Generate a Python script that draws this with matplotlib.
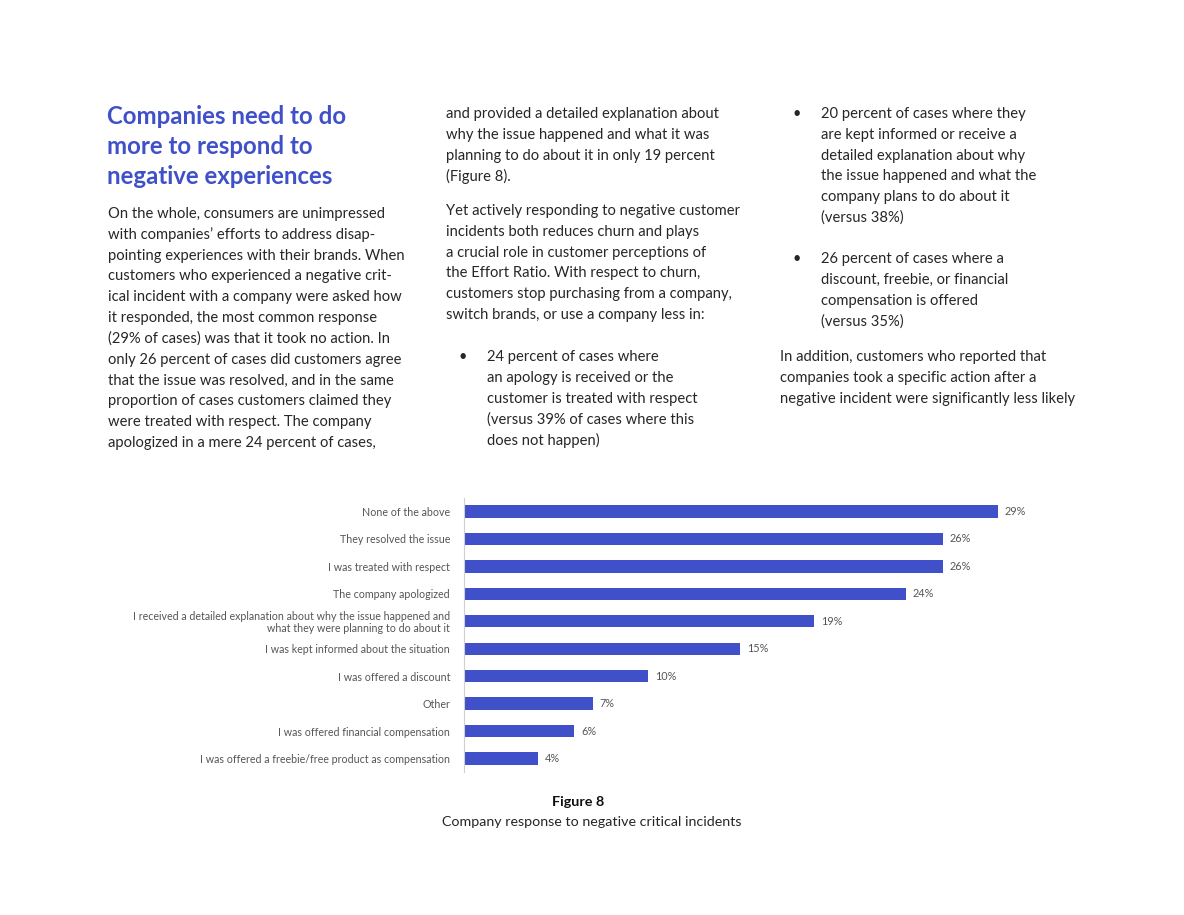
import matplotlib
matplotlib.use("Agg")
import matplotlib.pyplot as plt

# ---------------- data ----------------
categories = [
    "None of the above",
    "They resolved the issue",
    "I was treated with respect",
    "The company apologized",
    "I received a detailed explanation about why the issue happened and\nwhat they were planning to do about it",
    "I was kept informed about the situation",
    "I was offered a discount",
    "Other",
    "I was offered financial compensation",
    "I was offered a freebie/free product as compensation",
]
values = [29, 26, 26, 24, 19, 15, 10, 7, 6, 4]

heading_lines = ["Companies need to do", "more to respond to", "negative experiences"]
col1_lines = [
    "On the whole, consumers are unimpressed",
    "with companies\u2019 efforts to address disap-",
    "pointing experiences with their brands. When",
    "customers who experienced a negative crit-",
    "ical incident with a company were asked how",
    "it responded, the most common response",
    "(29% of cases) was that it took no action. In",
    "only 26 percent of cases did customers agree",
    "that the issue was resolved, and in the same",
    "proportion of cases customers claimed they",
    "were treated with respect. The company",
    "apologized in a mere 24 percent of cases,",
]
col2_para1 = [
    "and provided a detailed explanation about",
    "why the issue happened and what it was",
    "planning to do about it in only 19 percent",
    "(Figure 8).",
]
col2_para2 = [
    "Yet actively responding to negative customer",
    "incidents both reduces churn and plays",
    "a crucial role in customer perceptions of",
    "the Effort Ratio. With respect to churn,",
    "customers stop purchasing from a company,",
    "switch brands, or use a company less in:",
]
col2_bullet = [
    "24 percent of cases where",
    "an apology is received or the",
    "customer is treated with respect",
    "(versus 39% of cases where this",
    "does not happen)",
]
col3_bullet1 = [
    "20 percent of cases where they",
    "are kept informed or receive a",
    "detailed explanation about why",
    "the issue happened and what the",
    "company plans to do about it",
    "(versus 38%)",
]
col3_bullet2 = [
    "26 percent of cases where a",
    "discount, freebie, or financial",
    "compensation is offered",
    "(versus 35%)",
]
col3_para = [
    "In addition, customers who reported that",
    "companies took a specific action after a",
    "negative incident were significantly less likely",
]
fig_label = "Figure 8"
fig_caption = "Company response to negative critical incidents"

# ---------------- style ----------------
W, H = 1184, 915
plt.rcParams['font.family'] = ['Lato', 'DejaVu Sans']
BLUE = '#3F50C8'
TEXT = '#262626'
GREY = '#555555'
BODY_FS = 10.6
LINE = 20.8

fig = plt.figure(figsize=(W / 100, H / 100), dpi=100)
fig.patch.set_facecolor('white')


def px(x, y):
    return x / W, 1 - y / H


def block(lines, x, y0, step=LINE, **kw):
    for i, t in enumerate(lines):
        fig.text(*px(x, y0 + i * step), t, va='center', ha='left',
                 fontsize=kw.get('fs', BODY_FS), color=kw.get('color', TEXT),
                 fontweight=kw.get('weight', 'normal'))


def bullet(x, y):
    fig.text(*px(x, y), "\u2022", va='center', ha='center', fontsize=10.5, color=TEXT)


# heading
block(heading_lines, 107, 117, step=30, fs=17.3, color=BLUE, weight='bold')
# column 1
block(col1_lines, 108, 214)
# column 2
block(col2_para1, 446, 114)
block(col2_para2, 446, 211)
bullet(463, 357)
block(col2_bullet, 487, 357)
# column 3
bullet(797, 114)
block(col3_bullet1, 821, 114)
bullet(797, 259)
block(col3_bullet2, 821, 259)
block(col3_para, 780, 357)

# ---------------- chart ----------------
ax_left, ax_right = 464, 1100
row = 27.45
y_first, y_last = 511.5, 758.5
ax_top = y_first - row / 2
ax_bot = y_last + row / 2
ax = fig.add_axes([ax_left / W, 1 - ax_bot / H, (ax_right - ax_left) / W, (ax_bot - ax_top) / H])
scale = 534 / 29.0  # px per percent
ax.set_xlim(0, (ax_right - ax_left) / scale)
pos = list(range(len(categories)))
ax.barh(pos, values, height=0.45, color=BLUE, edgecolor='none')
ax.set_ylim(len(categories) - 0.5, -0.5)
ax.set_yticks(pos)
ax.set_yticklabels(categories, fontsize=7.65, color=GREY, linespacing=1.1)
ax.tick_params(axis='y', length=0, pad=10)
ax.set_xticks([])
for s in ['top', 'right', 'bottom']:
    ax.spines[s].set_visible(False)
ax.spines['left'].set_color('#d0d0d0')
ax.spines['left'].set_linewidth(0.8)
for p, v in zip(pos, values):
    ax.text(v + 7 / scale, p, f"{v}%", va='center', ha='left', fontsize=7.8, color=GREY)

fig.text(*px(578, 802), fig_label, ha='center', va='center', fontsize=10.4, fontweight='bold', color='#111111')
fig.text(*px(592, 822), fig_caption, ha='center', va='center', fontsize=10.3, color=TEXT)

fig.savefig('out.png', dpi=100, facecolor='white')
